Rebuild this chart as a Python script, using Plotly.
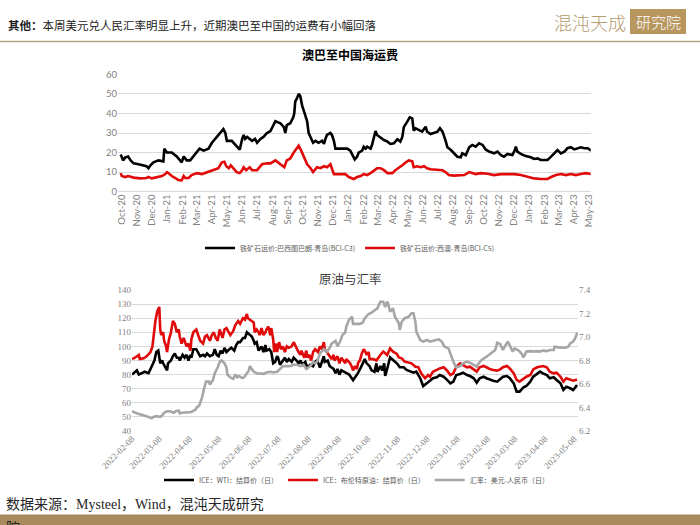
import pandas as pd
import plotly.graph_objects as go

# ---------------- data (day offsets, values) ----------------
BASE1 = "2020-10-01"   # chart 1 day-offset origin
BASE2 = "2022-02-08"   # chart 2 day-offset origin

BCI_C3 = [(-2,19),(3,16),(7,17.5),(13,18),(18,16),(24,14.5),(34,14),(44,13.5),(50,13),(54,12),(58,13.5),(64,15),(74,16),(84,15.5),(86,22),(91,20),(101,20),(111,18),(118,16),(121,15),(125,18),(131,16),(138,16),(145,18),(152,20),(157,22),(165,21),(175,22),(182,25),(189,27),(195,29),(202,31),(205,32),(209,30),(212,26),(222,26),(226,25),(232,23),(238,21.5),(243,27),(246,29),(249,27),(253,28),(263,26),(269,27),(273,25),(280,27),(286,28),(293,30),(300,31),(307,34),(310,36),(320,35),(327,33),(330,30),(333,34),(340,35),(346,38),(348,40),(350,46),(354,48),(357,50),(360,49),(364,44),(369,40),(374,36),(377,30),(381,28),(386,25),(391,26),(397,25),(404,26),(408,24.5),(411,27),(414,29),(421,30),(424,29),(428,26),(431,22),(441,22),(455,22),(461,21),(465,19),(468,17),(470,16.5),(475,18),(478,20),(485,21),(488,23),(492,22),(495,23),(502,22),(505,24),(509,28),(512,31),(515,29),(522,27.5),(529,26.4),(536,25.6),(542,24.4),(549,24.7),(556,26.8),(562,25.6),(566,28),(569,33),(573,35),(576,35.8),(581,38),(586,37.5),(589,31.2),(593,32.4),(600,31.5),(606,30.7),(613,33.2),(616,30.7),(623,29.5),(630,30.2),(637,30.7),(642,32.4),(647,30.7),(653,26.4),(657,22.7),(664,21.3),(670,19.6),(677,17.9),(684,17.6),(687,19.6),(694,18.7),(701,22.7),(707,23.9),(714,23),(721,24.7),(728,23.9),(734,21.6),(741,20.5),(751,19.6),(758,20.5),(765,18.7),(771,17.9),(778,19.3),(788,18.7),(793,21.3),(795,23),(798,20.5),(805,19.3),(815,18.2),(825,17.6),(832,16.7),(839,17),(845,16.2),(856,16.5),(859,16.2),(866,17.9),(872,19.6),(879,21.3),(886,19.6),(893,20.5),(899,22.2),(906,22.7),(913,21.6),(920,22.2),(926,22.7),(933,22.2),(940,22.2),(947,21)]

BCI_C5 = [(-2,9.5),(0,8),(7,7.5),(13,8),(24,7.2),(37,6.8),(50,7),(54,7.5),(61,6.8),(71,7.5),(81,8),(88,9),(91,10),(94,9.5),(101,8),(108,7),(114,6),(121,5.8),(125,8),(128,7),(135,7),(141,8.5),(152,9.5),(162,9),(168,9.5),(179,10.5),(189,11.5),(195,12),(202,15),(207,15.3),(211,13),(216,12),(220,13.5),(226,12),(232,10),(238,9.5),(243,11),(246,12.5),(251,11),(258,12.5),(263,11),(273,11),(283,14),(293,14.5),(300,14.5),(310,16),(320,14),(328,12.5),(333,16),(340,17),(347,20),(352,22),(357,23.5),(362,21),(367,18),(374,14),(381,12),(386,10),(394,12.5),(401,12),(408,13),(414,12.5),(421,14),(424,12),(428,9),(441,9),(451,9),(458,7.5),(468,6.5),(475,7.5),(482,8),(488,9),(495,8.5),(505,10),(515,12),(522,12),(529,11),(536,9.5),(546,9.5),(552,11),(559,12.5),(566,13.5),(573,15),(579,16),(586,15.5),(589,12.5),(596,13),(603,12.5),(610,13),(616,12),(623,11.5),(637,11),(647,11),(653,10),(660,8.5),(670,8.2),(680,8.5),(691,8.5),(701,10),(707,9.5),(714,9),(724,9.5),(738,9.2),(751,8.5),(765,9),(778,9),(792,9),(805,8.5),(819,7.5),(832,6.8),(845,6.5),(859,6.5),(866,7.5),(876,8.5),(886,9),(896,8.5),(906,9),(916,8.5),(926,9),(936,9.5),(947,9)]

WTI = [(0,80),(3,82),(5,83),(7,80),(10,81),(13,82),(17,81),(20,85),(23,90),(25,96),(27,97),(29,88),(31,90),(32,88),(34,85),(36,83),(37,88),(40,90),(42,93),(44,95),(46,92),(48,92),(49,90),(52,94),(54,92),(56,94),(58,90),(60,94),(61,92),(63,98),(66,98),(68,95),(70,93),(73,94),(75,93),(77,95),(80,93),(83,94),(85,98),(87,94),(89,93),(91,97),(93,95),(95,99),(97,96),(100,98),(102,99),(105,97),(107,101),(109,103),(111,103),(114,106),(116,106),(118,110),(121,108),(123,107),(125,104),(126,102),(128,103),(130,97),(131,98),(133,100),(135,96),(137,101),(138,97),(141,98),(143,96),(145,88),(147,89),(149,93),(150,92),(152,87),(155,90),(157,92),(159,89),(161,91),(164,89),(166,92),(169,90),(171,88),(173,90),(175,87),(178,89),(180,85),(183,87),(186,86),(188,89),(190,90),(192,87),(193,85),(197,93),(198,89),(201,90),(203,86),(205,85),(207,84),(209,81),(211,84),(213,80),(215,83),(218,82),(221,81),(223,80),(226,77),(227,76),(230,79),(232,81),(235,85),(237,88),(239,91),(241,88),(244,86),(246,83),(249,82),(251,88),(252,82),(255,86),(257,83),(259,88),(260,79),(262,84),(265,92.2),(268,90.4),(272,88),(275,85.2),(279,85.2),(282,83.3),(286,82.1),(289,81.4),(292,82.1),(296,77.4),(299,71.9),(303,73.8),(306,75.7),(309,77.4),(313,78.1),(316,79.7),(320,78.5),(323,76.6),(327,73.8),(330,75),(333,79.7),(337,80.4),(340,81.4),(344,79.7),(347,79),(351,77.4),(354,74.3),(357,77.4),(361,78.5),(364,77.4),(368,76.2),(371,75.7),(375,75),(378,76.6),(381,78.5),(385,79),(388,77.4),(392,73.8),(395,67.9),(398,67.9),(402,71),(405,71.9),(409,75),(412,78.5),(416,80.9),(419,82.1),(422,80.9),(426,79.7),(429,77.4),(433,78.1),(436,76.2),(440,73.8),(443,69.1),(446,71.4),(450,70.3),(453,69.1),(457,72.6)]

BRENT = [(0,91),(3,92),(7,94),(8,91),(12,91.5),(15,93),(19,96),(21,100),(23,112),(24,118),(26,125),(28,128),(29,112),(30,108),(32,110),(33,104),(35,100),(36,96),(38,105),(40,110),(42,118),(44,116),(46,110),(48,112),(49,107),(51,102),(53,106),(54,104),(56,100),(58,102),(60,97),(61,105),(63,110),(66,112),(68,108),(70,104),(73,102),(75,107),(77,108),(80,104),(82,108),(84,110),(86,106),(88,104),(90,112),(91,110),(93,106),(95,112),(97,113),(101,108),(104,111),(106,115),(109,118),(111,116),(114,120),(116,119),(118,123),(119,120),(121,119),(125,117),(126,110),(128,112),(130,110),(131,108),(133,113),(135,108),(137,110),(138,112),(140,114),(142,108),(143,113),(145,105),(146,96),(148,102),(149,96),(151,103),(153,98),(155,100),(157,96),(159,100),(161,99),(164,100),(166,103),(168,100),(171,96),(173,94),(174,97),(177,92),(179,97),(180,92),(182,94),(184,90),(186,96),(188,98),(191,96),(193,100),(195,98),(197,103),(198,98),(201,95),(203,93),(205,91),(207,94),(208,90),(211,93),(213,88),(215,92),(217,90),(219,88),(220,91),(224,88),(226,85),(227,83),(229,86),(231,84),(232,88),(234,90),(236,95),(238,98),(239,97),(241,94),(243,96),(244,91),(248,91),(251,90),(255,93.9),(258,96.3),(262,93.9),(265,98.6),(268,96.3),(272,94.6),(274,92.2),(277,91.5),(280,89.2),(284,88.5),(287,88),(291,85.6),(294,85.2),(297,80.9),(301,77.4),(304,79.7),(306,78.5),(309,82),(313,83.7),(316,84.4),(320,85.2),(323,83.3),(327,79.7),(330,80.9),(333,85.6),(337,88),(340,86.8),(344,85.2),(347,85.6),(351,83.3),(354,82.1),(357,85.2),(361,86.1),(364,85.2),(368,83.7),(371,83.3),(375,82.8),(378,83.7),(381,85.2),(385,86.1),(388,84.4),(392,80.9),(395,76.2),(398,75),(402,77.4),(405,78.5),(409,79.7),(412,83.7),(416,85.2),(419,85.6),(422,86.1),(426,85.2),(429,82.1),(433,80.9),(436,81.4),(440,78.5),(443,75),(446,77.4),(450,76.2),(453,75.7),(457,76.6)]

USDCNY = [(0,6.368),(3,6.356),(7,6.344),(10,6.338),(13,6.332),(17,6.32),(20,6.308),(22,6.32),(25,6.326),(29,6.32),(31,6.332),(33,6.356),(36,6.368),(39,6.368),(43,6.356),(45,6.368),(48,6.374),(49,6.35),(51,6.356),(55,6.356),(58,6.362),(61,6.362),(65,6.38),(67,6.404),(69,6.416),(72,6.488),(74,6.56),(76,6.62),(79,6.62),(80,6.596),(83,6.632),(85,6.692),(88,6.74),(90,6.788),(92,6.80),(95,6.776),(97,6.74),(98,6.68),(101,6.656),(104,6.644),(106,6.68),(108,6.656),(110,6.668),(113,6.65),(115,6.656),(117,6.68),(120,6.716),(121,6.752),(123,6.728),(125,6.704),(128,6.692),(132,6.692),(135,6.686),(138,6.698),(142,6.704),(145,6.698),(149,6.704),(152,6.728),(155,6.752),(159,6.752),(162,6.752),(166,6.764),(169,6.764),(173,6.752),(176,6.764),(179,6.728),(181,6.74),(183,6.752),(186,6.788),(188,6.776),(190,6.788),(193,6.86),(197,6.896),(200,6.872),(203,6.908),(205,6.944),(209,6.968),(211,6.92),(214,6.968),(216,7.016),(219,7.04),(220,7.088),(223,7.148),(226,7.172),(227,7.112),(231,7.112),(234,7.112),(237,7.124),(239,7.16),(243,7.196),(246,7.208),(250,7.232),(252,7.244),(255,7.30),(258,7.30),(260,7.256),(262,7.30),(263,7.286),(265,7.215),(268,7.244),(270,7.172),(274,7.117),(275,7.059),(277,7.13),(280,7.16),(284,7.172),(287,7.202),(289,7.202),(291,7.13),(292,7.045),(296,6.974),(299,6.961),(303,6.974),(306,6.961),(311,6.974),(315,6.98),(318,6.961),(321,6.918),(325,6.903),(327,6.855),(330,6.79),(333,6.742),(337,6.753),(340,6.776),(344,6.79),(347,6.782),(351,6.762),(354,6.747),(356,6.776),(359,6.805),(363,6.826),(366,6.847),(369,6.867),(373,6.889),(375,6.951),(378,6.94),(381,6.889),(383,6.924),(386,6.961),(388,6.932),(391,6.876),(393,6.903),(397,6.884),(400,6.86),(402,6.826),(405,6.876),(409,6.88),(412,6.876),(416,6.88),(419,6.876),(422,6.884),(426,6.88),(429,6.889),(433,6.889),(434,6.918),(438,6.912),(441,6.909),(445,6.909),(448,6.918),(450,6.946),(453,6.961),(455,6.988),(457,7.032),(458,7.017)]

NAMES1 = ["铁矿石运价:巴西图巴朗-青岛(BCI-C3)", "铁矿石运价:西澳-青岛(BCI-C5)"]
NAMES2 = ["ICE：WTI：结算价（日）", "ICE：布伦特原油：结算价（日）", "汇率：美元-人民币（日）"]

HEADER_BOLD = "其他："
HEADER_TEXT = "本周美元兑人民汇率明显上升，近期澳巴至中国的运费有小幅回落"
TITLE1 = "澳巴至中国海运费"
TITLE2 = "原油与汇率"
SOURCE = "数据来源：Mysteel，Wind，混沌天成研究"
SOURCE_WRAP = "院"
LOGO_LEFT = "混沌天成"
LOGO_RIGHT = "研究院"

# ---------------- helpers ----------------
W, H = 700, 525


def to_xy(pairs, base):
    d, v = zip(*pairs)
    x = pd.Timestamp(base) + pd.to_timedelta(list(d), unit="D")
    return x, list(v)


def px(x):
    return x / W


def py(y):
    return 1 - y / H


CJK = "Noto Sans CJK SC"
SERIF = "Liberation Serif"

fig = go.Figure()

# chart 1
for pairs, name, col in [(BCI_C3, NAMES1[0], "#000000"), (BCI_C5, NAMES1[1], "#E00A0A")]:
    x, y = to_xy(pairs, BASE1)
    fig.add_trace(go.Scatter(x=x, y=y, mode="lines", name=name,
                             line=dict(color=col, width=2.6),
                             xaxis="x", yaxis="y", legend="legend"))

# chart 2
for pairs, name, col, ya in [(WTI, NAMES2[0], "#000000", "y2"),
                             (BRENT, NAMES2[1], "#E00A0A", "y2"),
                             (USDCNY, NAMES2[2], "#A6A6A6", "y3")]:
    x, y = to_xy(pairs, BASE2)
    fig.add_trace(go.Scatter(x=x, y=y, mode="lines", name=name,
                             line=dict(color=col, width=2.6),
                             xaxis="x2", yaxis=ya, legend="legend2"))

tick_font1 = dict(family="Lato", size=9.5, color="#7F7F7F")
tick_font2 = dict(family=SERIF, size=9, color="#7F7F7F")
grid = "#D9D9D9"

fig.update_layout(
    template="none",
    width=W, height=H,
    margin=dict(l=0, r=0, t=0, b=0, pad=0, autoexpand=False),
    paper_bgcolor="white", plot_bgcolor="white",
    showlegend=True,
    xaxis=dict(domain=[px(118), px(590.7)], anchor="y", type="date",
               range=["2020-09-23 12:00", "2023-05-05"],
               tick0="2020-10-01", dtick="M1", tickformat="%b-%y",
               tickangle=-90, tickfont=tick_font1, showgrid=False,
               showline=False, ticks="", zeroline=False, automargin=False),
    yaxis=dict(domain=[py(191.7), py(74.3)], anchor="x", range=[0, 60],
               dtick=10, gridcolor=grid, gridwidth=1, zeroline=True,
               zerolinecolor=grid, zerolinewidth=1, tickfont=tick_font1,
               showline=False, ticks="", automargin=False),
    xaxis2=dict(domain=[px(132), px(578)], anchor="y2", type="date",
                range=["2022-02-08", "2023-05-12"],
                tick0="2022-02-08", dtick="M1", tickformat="%Y-%m-%d",
                tickangle=-45, tickfont=tick_font2, showgrid=False,
                showline=False, ticks="", zeroline=False, automargin=False),
    yaxis2=dict(domain=[py(431), py(290)], anchor="x2", range=[40, 140],
                dtick=10, gridcolor=grid, gridwidth=1, zeroline=False,
                tickfont=tick_font2, showline=False, ticks="", automargin=False),
    yaxis3=dict(overlaying="y2", side="right", anchor="x2", range=[6.2, 7.4],
                dtick=0.2, tickformat=".1f", showgrid=False, zeroline=False,
                tickfont=tick_font2, showline=False, ticks="", automargin=False),
    legend=dict(orientation="h", x=0.5, xanchor="center", y=py(248),
                yanchor="middle", font=dict(family=CJK, size=7, color="#595959"),
                itemwidth=30, bgcolor="rgba(0,0,0,0)", tracegroupgap=0),
    legend2=dict(orientation="h", x=px(357), xanchor="center", y=py(480),
                 yanchor="middle", font=dict(family=CJK, size=7, color="#595959"),
                 itemwidth=30, bgcolor="rgba(0,0,0,0)"),
)

shapes = [
    dict(type="line", xref="paper", yref="paper", x0=0, x1=1,
         y0=py(41.5), y1=py(41.5), line=dict(color="#B3A48B", width=1.5)),
    dict(type="rect", xref="paper", yref="paper", x0=px(630), x1=px(686),
         y0=py(34), y1=py(9), fillcolor="#B8975F", line=dict(width=0)),
    dict(type="rect", xref="paper", yref="paper", x0=0, x1=1,
         y0=0, y1=py(514.5), fillcolor="#A98A5C", line=dict(width=0),
         layer="below"),
]

P = dict(xref="paper", yref="paper", showarrow=False)
annotations = [
    dict(text=f"<b>{HEADER_BOLD}</b>{HEADER_TEXT}", x=px(6), y=py(25),
         xanchor="left", yanchor="middle",
         font=dict(family=CJK, size=11.5, color="#1A1A1A"), **P),
    dict(text=LOGO_LEFT, x=px(628), y=py(22), xanchor="right", yanchor="middle",
         font=dict(family=CJK, size=18, color="#B59A6C", weight=300), **P),
    dict(text=LOGO_RIGHT, x=px(658), y=py(21.5), xanchor="center", yanchor="middle",
         font=dict(family=CJK, size=15, color="#FFFFFF", weight=300), **P),
    dict(text=f"<b>{TITLE1}</b>", x=0.5, y=py(54), xanchor="center", yanchor="middle",
         font=dict(family=CJK, size=12, color="#000000"), **P),
    dict(text=TITLE2, x=0.5, y=py(278), xanchor="center", yanchor="middle",
         font=dict(family=CJK, size=12.5, color="#404040"), **P),
    dict(text=SOURCE, x=px(4), y=py(504), xanchor="left", yanchor="middle",
         font=dict(family=SERIF + ", " + CJK, size=14, color="#262626"), **P),
    dict(text=SOURCE_WRAP, x=px(4), y=py(515), xanchor="left", yanchor="top",
         font=dict(family=CJK, size=14, color="#262626"), **P),
]

fig.update_layout(shapes=shapes, annotations=annotations)
fig.write_html(
    "out.html",
    config={"displayModeBar": False},
    post_script="document.body.style.margin='0';document.documentElement.style.margin='0';",
)
